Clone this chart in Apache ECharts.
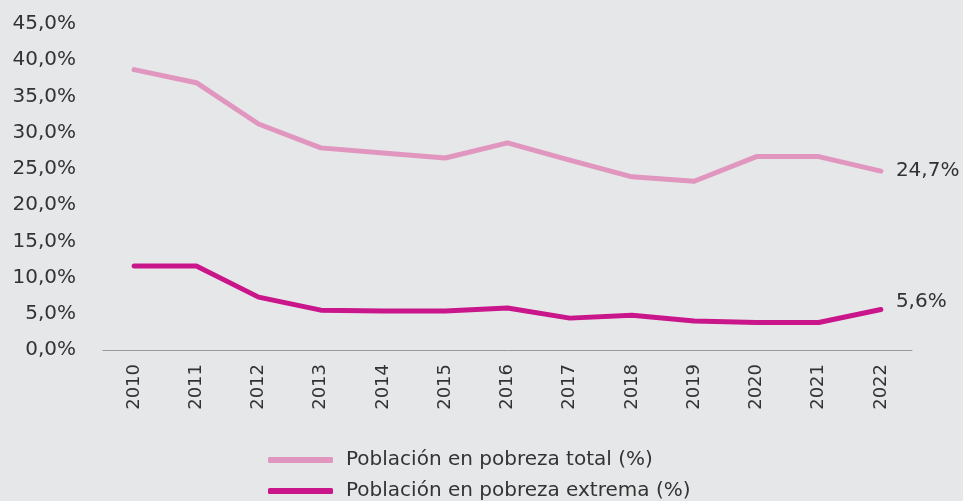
<!DOCTYPE html>
<html>
<head>
<meta charset="utf-8">
<script src="https://cdn.jsdelivr.net/npm/echarts@6/dist/echarts.min.js"></script>
<style>
  html, body { margin: 0; padding: 0; background: #e6e7e8; }
  #chart { width: 963px; height: 501px; }
</style>
</head>
<body>
<div id="chart"></div>
<script>
// datos
const years = ['2010', '2011', '2012', '2013', '2014', '2015', '2016', '2017', '2018', '2019', '2020', '2021', '2022']
const pobrezaTotal = [38.7, 36.9, 31.2, 27.9, 27.2, 26.5, 28.6, 26.2, 23.9, 23.3, 26.7, 26.7, 24.7]
const pobrezaExtrema = [11.6, 11.6, 7.3, 5.5, 5.4, 5.4, 5.8, 4.4, 4.8, 4.0, 3.8, 3.8, 5.6]
const seriesNames = ['Población en pobreza total (%)', 'Población en pobreza extrema (%)']

const fmt = v => v.toFixed(1).replace('.', ',') + '%'
const font = '"DejaVu Sans", Verdana, sans-serif'

const chart = echarts.init(document.getElementById('chart'))
chart.setOption({
  backgroundColor: '#e6e7e8',
  animation: false,
  textStyle: { fontFamily: font },
  grid: { left: 103, right: 51, top: 24, bottom: 151 },
  legend: {
    orient: 'vertical',
    left: 268,
    top: 450,
    padding: 0,
    itemGap: 11,
    itemWidth: 65,
    itemHeight: 6,
    icon: 'roundRect',
    textStyle: { fontSize: 20, lineHeight: 20, color: '#333', fontFamily: font, padding: [0, 0, 0, 8] },
    data: seriesNames
  },
  xAxis: {
    type: 'category',
    data: years,
    boundaryGap: true,
    axisLine: { lineStyle: { color: '#999', width: 1 } },
    axisTick: { show: false },
    axisLabel: { rotate: 90, fontSize: 18, color: '#333', margin: 14, fontFamily: font }
  },
  yAxis: {
    type: 'value',
    min: 0,
    max: 45,
    interval: 5,
    axisLine: { show: false },
    axisTick: { show: false },
    splitLine: { show: false },
    axisLabel: { fontSize: 20, color: '#333', margin: 27, formatter: fmt, fontFamily: font }
  },
  series: [
    {
      name: seriesNames[0],
      type: 'line',
      data: pobrezaTotal,
      showSymbol: false,
      color: '#e096bf',
      lineStyle: { width: 5, color: '#e096bf', cap: 'round', join: 'round' },
      endLabel: { show: true, formatter: p => fmt(p.value), fontSize: 20, color: '#333', distance: 15, fontFamily: font }
    },
    {
      name: seriesNames[1],
      type: 'line',
      data: pobrezaExtrema,
      showSymbol: false,
      color: '#c9168a',
      lineStyle: { width: 5, color: '#c9168a', cap: 'round', join: 'round' },
      endLabel: { show: true, formatter: p => fmt(p.value), fontSize: 20, color: '#333', distance: 15, offset: [0, -8], fontFamily: font }
    }
  ]
})
</script>
</body>
</html>
